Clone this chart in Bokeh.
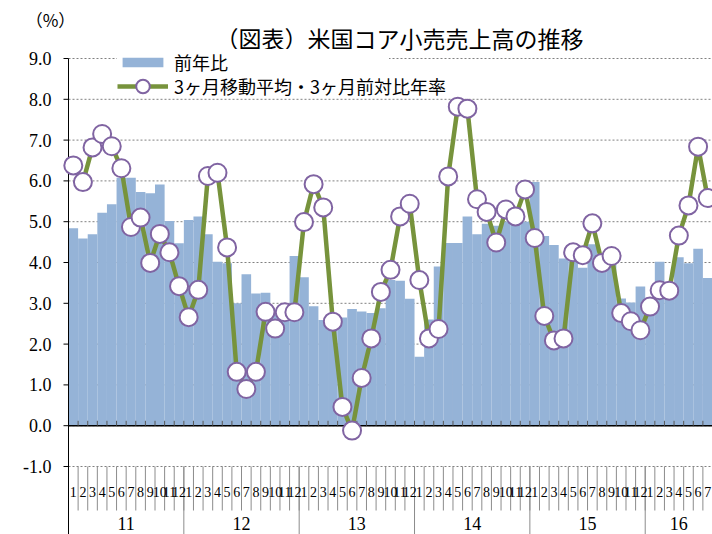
from bokeh.plotting import figure
from bokeh.models import Range1d, Legend, LegendItem, Label
from bokeh.embed import file_html
from bokeh.resources import INLINE
from bokeh.core.properties import value

# ---- data ----
years = ["11", "12", "13", "14", "15", "16"]
months_per_year = [12, 12, 12, 12, 12, 7]
month_labels = [str(m) for n in months_per_year for m in range(1, n + 1)]

yoy = [4.84, 4.59, 4.69, 5.22, 5.43, 6.08, 6.08, 5.73, 5.70, 5.91, 5.02, 4.47,
       5.04, 5.13, 4.69, 4.02, 3.98, 3.00, 3.71, 3.24, 3.26, 2.85, 2.80, 4.16,
       3.64, 2.93, 2.59, 2.60, 2.65, 2.86, 2.80, 2.76, 2.88, 3.57, 3.55, 3.11,
       1.69, 2.60, 3.90, 4.48, 4.48, 5.13, 4.69, 4.95, 4.90, 5.00, 5.00, 5.00,
       5.97, 4.65, 4.43, 4.10, 4.20, 3.87, 4.45, 4.10, 4.05, 3.12, 3.02, 3.41,
       3.10, 4.02, 3.40, 4.13, 3.98, 4.34, 3.62]

avg3 = [6.38, 5.97, 6.82, 7.15, 6.85, 6.31, 4.87, 5.10, 3.99, 4.70, 4.25, 3.42,
        2.66, 3.33, 6.12, 6.20, 4.37, 1.32, 0.90, 1.32, 2.79, 2.38, 2.78, 2.78,
        4.99, 5.92, 5.35, 2.55, 0.46, -0.12, 1.17, 2.14, 3.28, 3.82, 5.13, 5.44,
        3.57, 2.14, 2.37, 6.11, 7.82, 7.77, 5.55, 5.24, 4.49, 5.30, 5.13, 5.79,
        4.60, 2.69, 2.09, 2.14, 4.25, 4.18, 4.96, 3.99, 4.16, 2.76, 2.56, 2.34,
        2.92, 3.32, 3.31, 4.66, 5.40, 6.84, 5.58]

y_ticks = [-1, 0, 1, 2, 3, 4, 5, 6, 7, 8, 9]
y_tick_labels = ["%.1f" % t for t in y_ticks]

title_text = "（図表）米国コア小売売上高の推移"
unit_text = "（%）"
bar_name = "前年比"
line_name = "3ヶ月移動平均・3ヶ月前対比年率"

# ---- layout constants (pixels on the canvas) ----
W, H = 712, 534
PLOT_L = 68                # x of left edge of plot area
PLOT_R = 712               # x of right edge of plot area
PX_PER_UNIT = 40.8         # vertical scale
Y_TOP_PAGE = 58            # y of top gridline (y = 9)

n = len(yoy)
x = list(range(n))
PPM = (PLOT_R - PLOT_L) / n  # pixels per month
x_start = -0.5 - PLOT_L / PPM
x_end = x_start + W / PPM
y_top_val = y_ticks[-1]


def py(page_y):
    return y_top_val - (page_y - Y_TOP_PAGE) / PX_PER_UNIT


def pxv(page_x):
    return x_start + page_x / PPM


y_hi = py(0)
y_lo = py(H)

bounds = [i - 0.5 for i in range(n + 1)]
year_starts = []
s = 0
for m in months_per_year:
    year_starts.append(s)
    s += m
year_centers = [st + (m - 1) / 2 for st, m in zip(year_starts, months_per_year)]
year_bounds = [st - 0.5 for st in year_starts]

SERIF = "Liberation Serif"
JP = "Noto Sans CJK JP"

p = figure(width=W, height=H, x_range=Range1d(x_start, x_end),
           y_range=Range1d(y_lo, y_hi), output_backend="svg",
           toolbar_location=None, x_axis_location=None, y_axis_location=None,
           min_border=0)
p.outline_line_color = None
p.grid.visible = False
p.title.visible = False
p.background_fill_color = "white"
p.border_fill_color = "white"

ymin = y_ticks[0]
# gridlines
p.segment(x0=[-0.5] * len(y_ticks), y0=y_ticks, x1=[x_end] * len(y_ticks),
          y1=y_ticks, line_color="#808080", line_width=1, line_dash="2 2")

# bars
bars = p.vbar(x=x, top=yoy, bottom=0, width=1.0, fill_color="#95B3D7",
              line_color=None)
# zero axis line with small inner ticks
p.segment(x0=[-0.5], y0=[0], x1=[x_end], y1=[0], line_color="black",
          line_width=1.5)
p.segment(x0=bounds, y0=[0] * len(bounds), x1=bounds,
          y1=[0.12] * len(bounds), line_color="#555555", line_width=1)

# category separators below the plot
p.segment(x0=bounds[1:], y0=[ymin] * n, x1=bounds[1:], y1=[py(510)] * n,
          line_color="#8c8c8c", line_width=1)
p.segment(x0=year_bounds[1:], y0=[ymin] * (len(year_bounds) - 1),
          x1=year_bounds[1:], y1=[y_lo] * (len(year_bounds) - 1),
          line_color="#8c8c8c", line_width=1)
# y axis line and ticks
p.segment(x0=[-0.5], y0=[y_lo], x1=[-0.5], y1=[y_top_val], line_color="black",
          line_width=1)
p.segment(x0=[pxv(63)] * len(y_ticks), y0=y_ticks, x1=[-0.5] * len(y_ticks),
          y1=y_ticks, line_color="black", line_width=1)

# tick labels
p.text(x=[pxv(51)] * len(y_ticks), y=y_ticks, text=y_tick_labels,
       text_align="right", text_baseline="middle", text_font=value(SERIF),
       text_font_size="18px", text_color="black")
p.text(x=x, y=[py(491)] * n, text=month_labels, text_align="center",
       text_baseline="middle", text_font=value(SERIF), text_font_size="14px",
       text_color="black")
p.text(x=year_centers, y=[py(523)] * len(years), text=years,
       text_align="center", text_baseline="middle", text_font=value(SERIF),
       text_font_size="18px", text_color="black")

# line + markers
ln = p.line(x, avg3, line_color="#77933C", line_width=4.5)
sc = p.scatter(x, avg3, size=18, fill_color="white", line_color="#8064A2",
               line_width=2)

leg1 = Legend(items=[LegendItem(label=bar_name, renderers=[bars])],
              location=(117, H - 62 - 13), padding=0, margin=0, spacing=0,
              glyph_width=51, glyph_height=12, label_height=20, label_width=215,
              label_standoff=6, border_line_color=None,
              background_fill_color="white", background_fill_alpha=1.0,
              label_text_font=JP, label_text_font_size="18px",
              label_text_color="black")
leg2 = Legend(items=[LegendItem(label=line_name, renderers=[ln, sc])],
              location=(117, H - 86 - 17), padding=0, margin=0, spacing=0,
              glyph_width=51, glyph_height=34, label_height=20,
              label_standoff=6, border_line_color=None,
              background_fill_alpha=0.0,
              label_text_font=JP, label_text_font_size="18px",
              label_text_color="black")
p.add_layout(leg1)
p.add_layout(leg2)

p.add_layout(Label(x=399, y=H - 37, x_units="screen", y_units="screen",
                   text=title_text, text_align="center", text_baseline="middle",
                   text_font=JP, text_font_size="23px", text_color="black"))
p.add_layout(Label(x=50, y=H - 19, x_units="screen", y_units="screen",
                   text=unit_text, text_align="center", text_baseline="middle",
                   text_font=JP, text_font_size="17px", text_color="black"))

open("out.html", "w").write(file_html(p, INLINE))
